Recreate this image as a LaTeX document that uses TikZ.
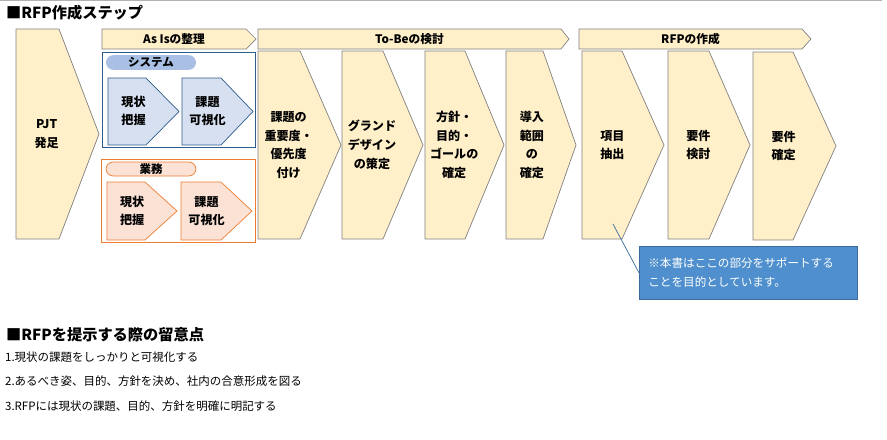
\documentclass[tikz,border=0pt]{standalone}
\usepackage{fontspec}
\setmainfont{Noto Sans CJK JP}
\usetikzlibrary{positioning}
\definecolor{cream}{HTML}{FFF0C9}
\definecolor{stepline}{HTML}{808080}
\definecolor{sysfill}{HTML}{D6E0F1}
\definecolor{sysline}{HTML}{2F5C8A}
\definecolor{sysoval}{HTML}{A9C0E4}
\definecolor{bizfill}{HTML}{FBE2D5}
\definecolor{bizline}{HTML}{ED7D31}
\definecolor{notefill}{HTML}{4F8FCD}
\definecolor{noteline}{HTML}{3B6B9E}
\tikzset{
  stepshape/.style={draw=stepline,fill=cream,line width=0.6pt},
  steptext/.style={font=\fontsize{10.3}{16}\selectfont\bfseries,align=center},
  headtext/.style={font=\fontsize{10}{11}\selectfont\bfseries},
  ovaltag/.style={minimum width=2.7cm,minimum height=0.44cm,rounded corners=0.22cm,
    inner sep=0pt,font=\fontsize{9.8}{11}\selectfont\bfseries},
  listtext/.style={anchor=west,font=\fontsize{9.8}{11}\selectfont},
  heading/.style={anchor=west,font=\fontsize{13}{14}\selectfont\bfseries}
}
\begin{document}
\begin{tikzpicture}[x=0.03cm,y=-0.03cm]
  \useasboundingbox (0,0) rectangle (887,439);
  \draw[black!30,line width=0.8pt] (0,0.5) -- (882,0.5);
  \node[heading] (title) at (2,13) {■RFP作成ステップ};
  % phase headers
  \foreach \xa/\xb/\xc/\txt [count=\i] in {102/246/256/{As Isの整理},258/561/569/{To-Beの検討},579/802/811/{RFPの作成}}{
    \draw[stepshape] (\xa,29) -- (\xb,29) -- (\xc,39) -- (\xb,49) -- (\xa,49) -- cycle;
    \node[headtext] (phase\i) at ({(\xa+\xb)/2},39) {\txt};
  }
  % main steps
  \foreach \xl/\xs/\xp/\yt/\yb/\txt [count=\i] in {
    16/59/99/29/239/{PJT\\発足},
    258/300/341/51/239/{課題の\\重要度・\\優先度\\付け},
    342/383/423/51/239/{グランド\\デザイン\\の策定},
    425/465/504/51/239/{方針・\\目的・\\ゴールの\\確定},
    506/543/576/51/239/{導入\\範囲\\の\\確定},
    582/622/664/51/239/{項目\\抽出},
    668/709/750/51/239/{要件\\検討},
    753/793/836/52/240/{要件\\確定}}{
    \draw[stepshape] (\xl,\yt) -- (\xs,\yt) -- (\xp,{(\yt+\yb)/2}) -- (\xs,\yb) -- (\xl,\yb) -- cycle;
    \node[steptext] (step\i) at ({\xl+0.37*(\xp-\xl)},{(\yt+\yb)/2}) {\txt};
  }
  % As Is: system
  \draw[sysline,line width=0.8pt] (102,52) rectangle (255,147);
  \node[ovaltag,fill=sysoval] (systag) at (151,62.5) {システム};
  \foreach \xl/\xs/\xp/\txt [count=\i] in {108/146/179/{現状\\把握},182/221/253/{課題\\可視化}}{
    \draw[draw=sysline,fill=sysfill,line width=0.6pt] (\xl,78) -- (\xs,78) -- (\xp,111.5) -- (\xs,145) -- (\xl,145) -- cycle;
    \node[steptext] (sys\i) at ({\xl+0.36*(\xp-\xl)},111) {\txt};
  }
  % As Is: business
  \draw[bizline,line width=0.8pt] (101,159) rectangle (255,242);
  \node[ovaltag,draw=bizline,fill=bizfill,minimum height=0.42cm,line width=0.6pt] (biztag) at (151,169) {業務};
  \foreach \xl/\xs/\xp/\txt [count=\i] in {107/145/177/{現状\\把握},181/221/252/{課題\\可視化}}{
    \draw[draw=bizline,fill=bizfill,line width=0.6pt] (\xl,182) -- (\xs,182) -- (\xp,211) -- (\xs,240) -- (\xl,240) -- cycle;
    \node[steptext] (biz\i) at ({\xl+0.36*(\xp-\xl)},211) {\txt};
  }
  % callout
  \node[anchor=north west,draw=noteline,fill=notefill,text=white,line width=0.6pt,
    minimum width=6.54cm,minimum height=1.59cm,text width=6cm,inner xsep=0.25cm,
    align=left,font=\fontsize{9.9}{16}\selectfont] (note) at (639,246)
    {※本書はここの部分をサポートする\\ことを目的としています。};
  \coordinate (ptr) at (613,224);
  \draw[noteline,line width=0.6pt] (ptr) -- (note.west);
  % notes
  \node[heading] (title2) at (2,335) {■RFPを提示する際の留意点};
  \node[listtext] (item1) at (1,357) {1.現状の課題をしっかりと可視化する};
  \node[listtext] (item2) at (1,381) {2.あるべき姿、目的、方針を決め、社内の合意形成を図る};
  \node[listtext] (item3) at (1,406) {3.RFPには現状の課題、目的、方針を明確に明記する};
\end{tikzpicture}
\end{document}
